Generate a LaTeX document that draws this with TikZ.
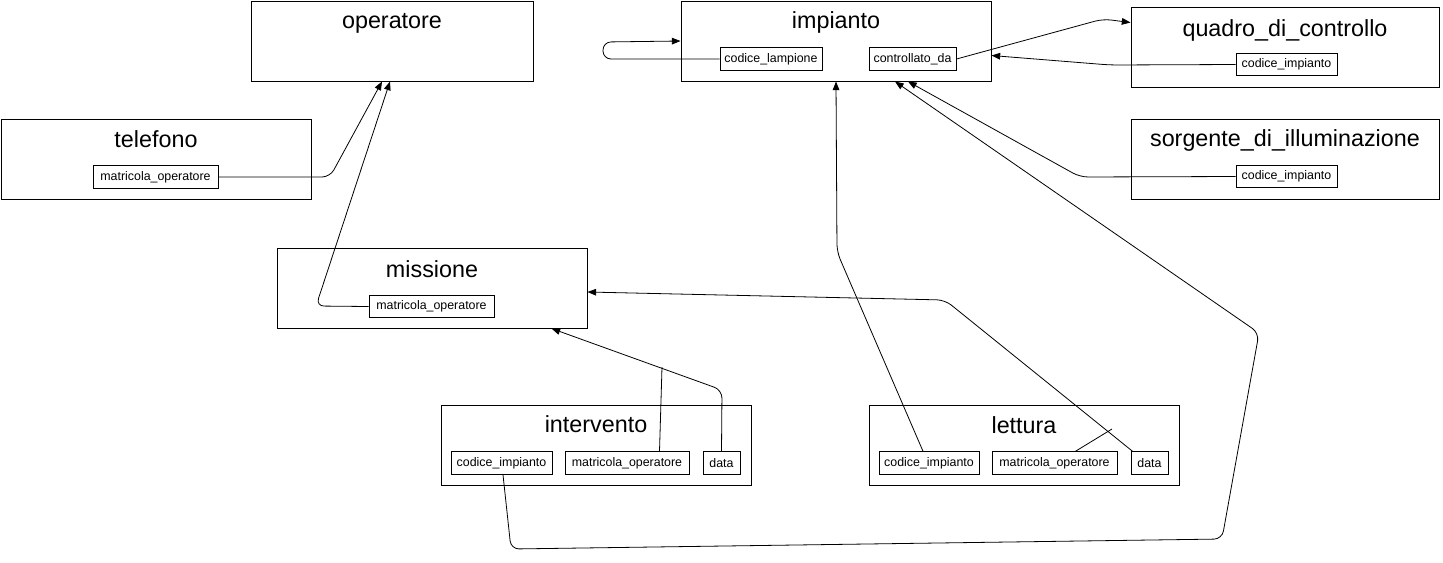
\documentclass[tikz,border=0pt]{standalone}
\usepackage{fontspec}
\setmainfont{Liberation Sans}
\usetikzlibrary{arrows.meta,calc}
\begin{document}
\begin{tikzpicture}[x=0.75pt,y=-0.75pt,
  ent/.style={draw, line width=0.75pt, inner sep=0pt, minimum height=80*0.75pt},
  ttl/.style={anchor=base, font=\fontsize{17.5}{20}\selectfont, inner sep=0pt},
  attr/.style={draw, line width=0.75pt, inner sep=0pt, minimum height=22.5*0.75pt, font=\fontsize{9.3}{11}\selectfont},
  arr/.style={-{Triangle[length=6.5pt,width=5pt]}},
  con/.style={line width=0.6pt, rounded corners=6pt}]
\useasboundingbox (0,0) rectangle (1443,562);

% entities
\node[ent, minimum width=282*0.75pt] (operatore) at (392,41) {};
\node[ttl] (t-operatore) at (392,28) {operatore};
\node[ent, minimum width=310*0.75pt] (impianto) at (836,41) {};
\node[ttl] (t-impianto) at (836,28) {impianto};
\node[ent, minimum width=308*0.75pt] (quadro) at (1285,47) {};
\node[ttl] (t-quadro) at (1285,36) {quadro\_di\_controllo};
\node[ent, minimum width=310*0.75pt] (telefono) at (156,159) {};
\node[ttl] (t-telefono) at (156,147) {telefono};
\node[ent, minimum width=308*0.75pt] (sorgente) at (1285,159) {};
\node[ttl] (t-sorgente) at (1285,146) {sorgente\_di\_illuminazione};
\node[ent, minimum width=310*0.75pt] (missione) at (432,288) {};
\node[ttl] (t-missione) at (432,277) {missione};
\node[ent, minimum width=310*0.75pt] (intervento) at (596,445) {};
\node[ttl] (t-intervento) at (596,432) {intervento};
\node[ent, minimum width=310*0.75pt] (lettura) at (1024,445) {};
\node[ttl] (t-lettura) at (1024,433) {lettura};

% attributes
\node[attr, minimum width=102*0.75pt] (icl) at (771,59) {codice\_lampione};
\node[attr, minimum width=87*0.75pt] (ictl) at (912.5,59) {controllato\_da};
\node[attr, minimum width=101*0.75pt] (qci) at (1286.5,64.5) {codice\_impianto};
\node[attr, minimum width=101*0.75pt] (sci) at (1286.5,176.5) {codice\_impianto};
\node[attr, minimum width=125*0.75pt] (tmo) at (155.5,177) {matricola\_operatore};
\node[attr, minimum width=125*0.75pt] (mmo) at (431.5,306.5) {matricola\_operatore};
\node[attr, minimum width=101*0.75pt] (ici) at (501.5,463) {codice\_impianto};
\node[attr, minimum width=124*0.75pt] (imo) at (627,463) {matricola\_operatore};
\node[attr, minimum width=37*0.75pt] (ida) at (721.5,463) {data};
\node[attr, minimum width=100*0.75pt] (lci) at (929,463) {codice\_impianto};
\node[attr, minimum width=125*0.75pt] (lmo) at (1054.5,463) {matricola\_operatore};
\node[attr, minimum width=37*0.75pt] (lda) at (1149.5,463) {data};

% connectors
\draw[con,arr] (icl.west) -- (603,59) -- (603,42) -- (impianto.west);
\draw[con,arr] (ictl.east) -- (1103,19) -- ($(quadro.north west)+(0,16)$);
\draw[con,arr] (qci.west) -- (1110,65) -- ($(impianto.north east)+(0,55)$);
\draw[con,arr] (sci.west) -- (1080,177) -- ($(impianto.south)+(72,0)$);
\draw[con,arr] (tmo.east) -- (330,177) -- ($(operatore.south)+(-10,0)$);
\draw[con,arr] (mmo.west) -- (316,306) -- ($(operatore.south)+(-2,0)$);
\draw[con,arr] (ida.north) -- (722,390) -- ($(missione.south east)+(-36,0)$);
\coordinate (j1) at (662,367);
\draw[con] ($(imo.north east)+(-30,0)$) -- (j1);
\draw[con,arr] ($(lda.north west)+(2,0)$) -- (945,300) -- ($(missione.east)+(0,4)$);
\coordinate (j2) at (1112,429);
\draw[con] ($(lmo.north east)+(-42,0)$) -- (j2);
\draw[con,arr] ($(lci.north)+(-6,0)$) -- (837,252) -- (impianto.south);
\draw[con,arr] ($(ici.south)+(1.5,0)$) -- (511,549) -- (1222,539) -- (1259,333) -- ($(impianto.south)+(59,0)$);
\end{tikzpicture}
\end{document}
